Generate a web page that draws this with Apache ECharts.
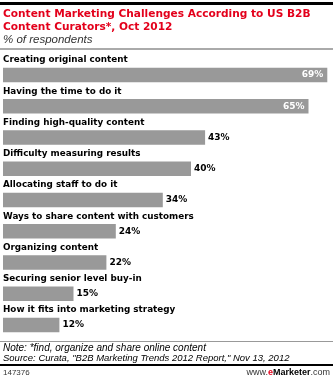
<!DOCTYPE html>
<html>
<head>
<meta charset="utf-8">
<script src="https://cdn.jsdelivr.net/npm/echarts@6/dist/echarts.min.js"></script>
<style>
html,body{margin:0;padding:0;background:#fff;}
#c{width:333px;height:380px;}
</style>
</head>
<body>
<div id="c"></div>
<script>
var categories = [
  "Creating original content",
  "Having the time to do it",
  "Finding high-quality content",
  "Difficulty measuring results",
  "Allocating staff to do it",
  "Ways to share content with customers",
  "Organizing content",
  "Securing senior level buy-in",
  "How it fits into marketing strategy"
];
var values = [69, 65, 43, 40, 34, 24, 22, 15, 12];
var insideCount = 2;

var titleLines = "Content Marketing Challenges According to US B2B\nContent Curators*, Oct 2012";
var subtitle = "% of respondents";
var noteText = "Note: *find, organize and share online content";
var sourceText = "Source: Curata, \"B2B Marketing Trends 2012 Report,\" Nov 13, 2012";
var chartId = "147376";

var chart = echarts.init(document.getElementById('c'), null, {renderer: 'canvas'});

var seriesData = values.map(function (v, i) {
  if (i < insideCount) {
    return {value: v, label: {position: 'insideRight', color: '#fff', distance: 4}};
  }
  return {value: v};
});

var sans = '"DejaVu Sans", Verdana, sans-serif';
var arial = '"Liberation Sans", Arial, sans-serif';

chart.setOption({
  animation: false,
  grid: {left: 3, right: 1, top: 59.4, height: 281.25, containLabel: false},
  xAxis: {type: 'value', min: 0, max: 70, show: false},
  yAxis: {
    type: 'category', inverse: true, data: categories,
    axisLine: {show: false}, axisTick: {show: false}, splitLine: {show: false},
    axisLabel: {
      inside: true, margin: 0, align: 'left', verticalAlign: 'bottom',
      padding: [0, 0, 9, 0], lineHeight: 12,
      fontFamily: sans, fontWeight: 'bold', fontSize: 8.8, color: '#000'
    }
  },
  series: [{
    type: 'bar', data: seriesData, barWidth: 14.5,
    itemStyle: {color: '#999999'},
    label: {
      show: true, position: 'right', distance: 3, formatter: '{c}%',
      fontFamily: sans, fontWeight: 'bold', fontSize: 9, color: '#000'
    }
  }],
  graphic: [
    {type: 'rect', shape: {x: 0, y: 2, width: 333, height: 3}, style: {fill: '#000'}},
    {type: 'text', left: 3, top: 8, style: {text: titleLines, font: 'bold 10.6px ' + sans, fill: '#e3001b', lineHeight: 13}},
    {type: 'text', left: 3, top: 34, style: {text: subtitle, font: 'italic 11.5px ' + arial, fill: '#333'}},
    {type: 'rect', shape: {x: 0, y: 48, width: 333, height: 2}, style: {fill: '#aaaaaa'}},
    {type: 'rect', shape: {x: 0, y: 341, width: 333, height: 1}, style: {fill: '#999999'}},
    {type: 'text', left: 3, top: 343, style: {text: noteText, font: 'italic 10px ' + arial, fill: '#000'}},
    {type: 'text', left: 3, top: 353, style: {text: sourceText, font: 'italic 9.5px ' + arial, fill: '#000'}},
    {type: 'rect', shape: {x: 0, y: 364, width: 333, height: 2}, style: {fill: '#000'}},
    {type: 'text', left: 3, top: 369, style: {text: chartId, font: '8px ' + arial, fill: '#333'}},
    {type: 'text', right: 3, top: 368, style: {
      text: '{a|www.}{b|e}{c|Marketer}{a|.com}',
      rich: {
        a: {font: '9px ' + arial, fill: '#333'},
        b: {font: 'bold 9px ' + arial, fill: '#e3001b'},
        c: {font: 'bold 9px ' + arial, fill: '#000'}
      }
    }}
  ]
});
</script>
</body>
</html>
